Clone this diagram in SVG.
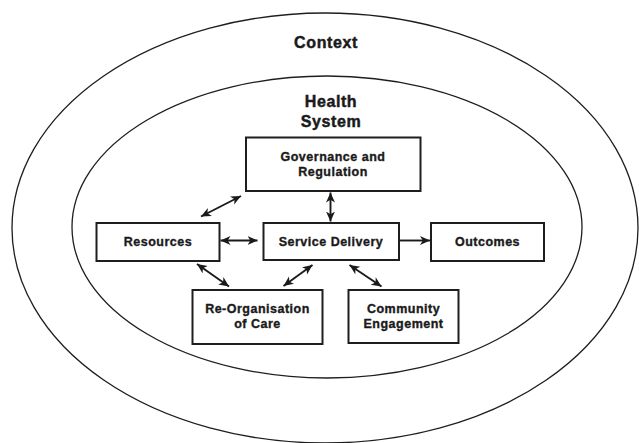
<svg xmlns="http://www.w3.org/2000/svg" width="639" height="443" viewBox="0 0 639 443">
<defs>
<style>
.ell{fill:none;stroke:#1e1e1e;stroke-width:1.3}
.box{fill:#fff;stroke:#1e1e1e;stroke-width:2}
.t{font-family:"Liberation Sans",Arial,sans-serif;font-weight:bold;fill:#1a1a1a;stroke:#1a1a1a;stroke-width:0.35;text-anchor:middle}
.lbl{font-size:12.5px;letter-spacing:0.5px}
.big{font-size:16px;letter-spacing:0.6px;stroke-width:0.45}
.c{stroke:#1a1a1a;stroke-width:1.9;fill:none}
</style>
<marker id="ah" markerUnits="userSpaceOnUse" markerWidth="11" markerHeight="10" refX="10" refY="4.5" orient="auto-start-reverse" viewBox="0 0 11 10">
<path d="M0,0 L10,4.5 L0,9 L2.8,4.5 z" fill="#1a1a1a"/>
</marker>
</defs>
<rect width="639" height="443" fill="#fff"/>
<g id="context">
<ellipse class="ell" cx="325" cy="228" rx="313" ry="215"/>
<text class="t big" x="326" y="48">Context</text>
</g>
<g id="health-system">
<ellipse class="ell" cx="327" cy="227" rx="255" ry="151"/>
<text class="t big" x="331" y="107">Health</text>
<text class="t big" x="331" y="127">System</text>
</g>
<g id="connectors">
<line class="c" x1="201" y1="216.5" x2="241" y2="196" marker-start="url(#ah)" marker-end="url(#ah)"/>
<line class="c" x1="330.5" y1="192.5" x2="330.5" y2="221.5" marker-start="url(#ah)" marker-end="url(#ah)"/>
<line class="c" x1="220.5" y1="240.5" x2="257.5" y2="240.5" marker-start="url(#ah)" marker-end="url(#ah)"/>
<line class="c" x1="399.5" y1="240.5" x2="430" y2="240.5" marker-end="url(#ah)"/>
<line class="c" x1="197" y1="264" x2="229" y2="286.5" marker-start="url(#ah)" marker-end="url(#ah)"/>
<line class="c" x1="283.5" y1="286" x2="312.5" y2="265" marker-start="url(#ah)" marker-end="url(#ah)"/>
<line class="c" x1="349.5" y1="265" x2="381.5" y2="286.5" marker-start="url(#ah)" marker-end="url(#ah)"/>
</g>
<g id="governance">
<rect class="box" x="246" y="137.5" width="174.5" height="53.5"/>
<text class="t lbl" x="333" y="161">Governance and</text>
<text class="t lbl" x="333" y="176">Regulation</text>
</g>
<g id="resources">
<rect class="box" x="96.5" y="223" width="123" height="38"/>
<text class="t lbl" x="158" y="246">Resources</text>
</g>
<g id="service-delivery">
<rect class="box" x="263.5" y="223" width="135.5" height="37"/>
<text class="t lbl" x="331" y="245.5">Service Delivery</text>
</g>
<g id="outcomes">
<rect class="box" x="431" y="223" width="113" height="38"/>
<text class="t lbl" x="487.5" y="246">Outcomes</text>
</g>
<g id="reorganisation">
<rect class="box" x="192.5" y="290" width="130" height="54"/>
<text class="t lbl" x="257.5" y="313">Re-Organisation</text>
<text class="t lbl" x="257.5" y="328">of Care</text>
</g>
<g id="community">
<rect class="box" x="348.5" y="290" width="110" height="53"/>
<text class="t lbl" x="403.5" y="313">Community</text>
<text class="t lbl" x="403.5" y="328">Engagement</text>
</g>
</svg>
